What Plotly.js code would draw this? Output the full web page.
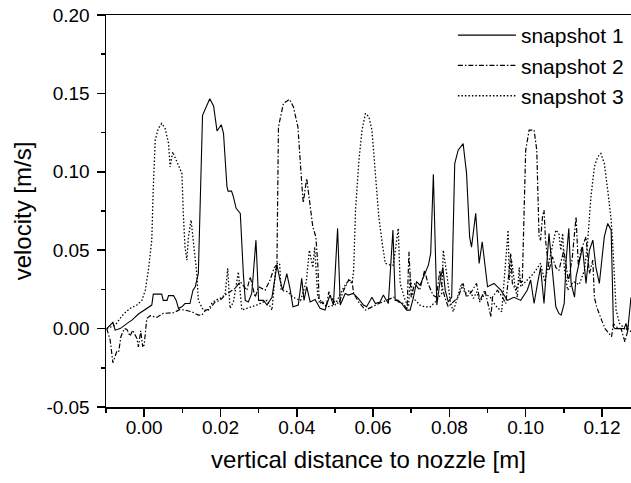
<!DOCTYPE html>
<html>
<head>
<meta charset="utf-8">
<script src="https://cdn.plot.ly/plotly-3.0.1.min.js"></script>
<style>html,body{margin:0;padding:0;background:#fff;}#chart{width:631px;height:483px;}</style>
</head>
<body>
<div id="chart"></div>
<script>
// snapshot 1 (solid)
const x1 = [-0.0098,-0.0082,-0.0076,-0.0063,-0.0041,-0.0032,-0.0015,0.0007,0.0020,0.0024,0.0046,0.0050,0.0060,0.0064,0.0077,0.0084,0.0090,0.0099,0.0107,0.0120,0.0128,0.0134,0.0142,0.0153,0.0172,0.0182,0.0191,0.0202,0.0208,0.0217,0.0220,0.0229,0.0234,0.0241,0.0252,0.0260,0.0265,0.0273,0.0282,0.0293,0.0300,0.0313,0.0322,0.0335,0.0348,0.0356,0.0363,0.0374,0.0383,0.0390,0.0404,0.0413,0.0419,0.0426,0.0435,0.0448,0.0457,0.0461,0.0474,0.0487,0.0496,0.0507,0.0514,0.0527,0.0535,0.0548,0.0561,0.0575,0.0583,0.0597,0.0606,0.0618,0.0627,0.0640,0.0652,0.0658,0.0666,0.0675,0.0688,0.0697,0.0706,0.0714,0.0723,0.0736,0.0745,0.0751,0.0758,0.0767,0.0776,0.0783,0.0789,0.0797,0.0806,0.0814,0.0823,0.0836,0.0845,0.0853,0.0858,0.0869,0.0878,0.0886,0.0897,0.0900,0.0917,0.0935,0.0952,0.0969,0.0987,0.1004,0.1013,0.1022,0.1031,0.1039,0.1048,0.1061,0.1070,0.1079,0.1087,0.1093,0.1101,0.1106,0.1113,0.1119,0.1128,0.1132,0.1149,0.1158,0.1167,0.1176,0.1184,0.1193,0.1206,0.1215,0.1224,0.1230,0.1234,0.1258,0.1263,0.1267,0.1276];
const y1 = [0.000,0.004,-0.001,0.000,0.004,0.0054,0.0093,0.0129,0.015,0.022,0.022,0.018,0.018,0.021,0.021,0.018,0.0129,0.0139,0.016,0.016,0.0245,0.0267,0.035,0.136,0.1466,0.142,0.126,0.130,0.1245,0.0905,0.0877,0.0877,0.084,0.0767,0.0735,0.035,0.018,0.017,0.0224,0.0564,0.018,0.018,0.015,0.020,0.0405,0.031,0.0245,0.035,0.0245,0.0139,0.015,0.032,0.018,0.0267,0.017,0.0186,0.0139,0.0129,0.0118,0.0214,0.015,0.0639,0.015,0.0224,0.0214,0.0224,0.0193,0.015,0.0139,0.020,0.016,0.017,0.0214,0.016,0.0628,0.018,0.018,0.016,0.0118,0.0118,0.020,0.030,0.0277,0.035,0.0405,0.048,0.0985,0.015,0.031,0.039,0.0245,0.017,0.020,0.1053,0.1138,0.118,0.099,0.0585,0.052,0.0735,0.0416,0.0554,0.033,0.0267,0.0288,0.0245,0.018,0.020,0.018,0.0245,0.031,0.016,0.0288,0.039,0.016,0.0607,0.037,0.0139,0.0097,0.0086,0.016,0.0437,0.0639,0.0288,0.020,0.033,0.052,0.0288,0.050,0.0564,0.039,0.0288,0.0585,0.0671,0.0628,0.001,0.000,0.000,0.0033,-0.002,0.020];

// snapshot 2 (dash-dot)
const x2 = [-0.0098,-0.0089,-0.0082,-0.0072,-0.0067,-0.0061,-0.0052,-0.0045,-0.0037,-0.0030,-0.0019,-0.0015,-0.0009,-0.0004,0.0000,0.0007,0.0016,0.0033,0.0050,0.0077,0.0094,0.0107,0.0125,0.0142,0.0151,0.0160,0.0173,0.0186,0.0199,0.0212,0.0225,0.0238,0.0252,0.0269,0.0278,0.0291,0.0300,0.0317,0.0330,0.0341,0.0348,0.0352,0.0365,0.0381,0.0391,0.0403,0.0413,0.0417,0.0426,0.0433,0.0442,0.0450,0.0455,0.0459,0.0468,0.0477,0.0484,0.0490,0.0499,0.0510,0.0523,0.0536,0.0545,0.0549,0.0562,0.0580,0.0597,0.0615,0.0635,0.0654,0.0667,0.0680,0.0689,0.0694,0.0700,0.0709,0.0722,0.0735,0.0744,0.0757,0.0766,0.0775,0.0779,0.0788,0.0797,0.0810,0.0823,0.0836,0.0845,0.0858,0.0871,0.0880,0.0893,0.0909,0.0913,0.0926,0.0939,0.0948,0.0961,0.0965,0.0974,0.0985,0.0991,0.1000,0.1009,0.1022,0.1029,0.1035,0.1039,0.1044,0.1048,0.1052,0.1061,0.1070,0.1079,0.1087,0.1100,0.1112,0.1122,0.1132,0.1138,0.1145,0.1158,0.1167,0.1176,0.1180,0.1186,0.1199,0.1208,0.1225,0.1230,0.1238,0.1250,0.1260,0.1269,0.1276];
const y2 = [0.0,-0.0073,-0.0218,-0.0148,-0.0152,-0.0052,0.0,-0.0005,-0.0048,-0.001,-0.0063,-0.0116,-0.0014,-0.0112,-0.0105,0.0065,0.0082,0.0071,0.0097,0.0101,0.0122,0.0118,0.0107,0.0086,0.0086,0.0114,0.0129,0.017,0.018,0.0214,0.0235,0.0256,0.030,0.0245,0.033,0.020,0.0267,0.0245,0.031,0.039,0.040,0.1287,0.1436,0.1462,0.1415,0.1287,0.0926,0.0802,0.0958,0.082,0.0649,0.0585,0.0416,0.016,0.017,0.0139,0.0235,0.020,0.017,0.016,0.0245,0.031,0.030,0.0224,0.017,0.0118,0.0139,0.016,0.018,0.020,0.017,0.016,0.0118,0.049,0.020,0.0288,0.0245,0.037,0.0288,0.0214,0.020,0.037,0.0288,0.020,0.0139,0.017,0.020,0.0288,0.020,0.0235,0.0288,0.018,0.0245,0.0075,0.020,0.0245,0.020,0.016,0.048,0.0288,0.0245,0.031,0.0288,0.1138,0.1266,0.1266,0.1138,0.0585,0.0564,0.0713,0.0756,0.0564,0.037,0.0458,0.039,0.037,0.050,0.030,0.045,0.0713,0.040,0.050,0.0585,0.035,0.0437,0.020,0.0139,0.0054,0.0,-0.0052,0.003,0.001,0.0,-0.0084,0.0,-0.002];

// snapshot 3 (dotted)
const x3 = [-0.0098,-0.0076,-0.0063,-0.0054,-0.0037,-0.0019,-0.0006,0.0003,0.0011,0.0020,0.0024,0.0029,0.0037,0.0046,0.0055,0.0064,0.0068,0.0075,0.0084,0.0094,0.0099,0.0103,0.0107,0.0112,0.0116,0.0123,0.0129,0.0138,0.0142,0.0155,0.0168,0.0177,0.0186,0.0199,0.0212,0.0219,0.0225,0.0234,0.0247,0.0256,0.0269,0.0282,0.0295,0.0313,0.0322,0.0335,0.0346,0.0355,0.0359,0.0377,0.0390,0.0410,0.0425,0.0433,0.0442,0.0447,0.0455,0.0468,0.0481,0.0500,0.0519,0.0536,0.0545,0.0549,0.0554,0.0563,0.0571,0.0580,0.0589,0.0597,0.0606,0.0615,0.0624,0.0632,0.0645,0.0653,0.0666,0.0671,0.0684,0.0693,0.0697,0.0706,0.0723,0.0736,0.0750,0.0763,0.0780,0.0784,0.0793,0.0802,0.0810,0.0819,0.0832,0.0841,0.0854,0.0863,0.0872,0.0880,0.0893,0.0907,0.0920,0.0937,0.0950,0.0954,0.0957,0.0963,0.0972,0.0978,0.0983,0.0987,0.1000,0.1020,0.1039,0.1050,0.1066,0.1079,0.1087,0.1092,0.1097,0.1101,0.1110,0.1125,0.1140,0.1154,0.1162,0.1171,0.1180,0.1189,0.1197,0.1206,0.1215,0.1224,0.1228,0.1232,0.1237,0.1246,0.1254,0.1263,0.1272];
const y3 = [0.0,0.0022,0.0065,0.0092,0.0129,0.015,0.018,0.0245,0.037,0.0564,0.0904,0.1202,0.1276,0.1308,0.1276,0.118,0.1032,0.1127,0.1074,0.101,0.099,0.0713,0.0522,0.0437,0.0585,0.0692,0.0564,0.035,0.018,0.0118,0.0118,0.016,0.018,0.0193,0.0214,0.0384,0.0129,0.017,0.0362,0.0118,0.0129,0.0139,0.015,0.017,0.018,0.0118,0.0416,0.0416,0.0245,0.0235,0.020,0.018,0.030,0.050,0.039,0.052,0.020,0.016,0.0139,0.015,0.0245,0.031,0.0288,0.037,0.0756,0.1075,0.1266,0.1372,0.1351,0.1266,0.0968,0.0713,0.0543,0.0416,0.0405,0.0405,0.0639,0.0288,0.018,0.0139,0.033,0.0193,0.015,0.0139,0.0139,0.017,0.0224,0.050,0.035,0.018,0.0107,0.018,0.0288,0.0224,0.0245,0.0193,0.0235,0.017,0.0224,0.020,0.015,0.0107,0.050,0.0628,0.031,0.0437,0.0267,0.020,0.039,0.0267,0.030,0.035,0.0416,0.030,0.048,0.0628,0.0607,0.050,0.0607,0.039,0.0245,0.030,0.028,0.037,0.0543,0.084,0.1032,0.1096,0.1117,0.1053,0.0883,0.0692,0.0543,0.033,0.0118,0.0033,0.001,-0.001,0.0033];

const names = ["snapshot 1", "snapshot 2", "snapshot 3"];
const xTickLabels = ["0.00","0.02","0.04","0.06","0.08","0.10","0.12"];
const yTickLabels = ["-0.05","0.00","0.05","0.10","0.15","0.20"];

const FONT = "Liberation Sans, Arial, sans-serif";
const traces = [
  {x: x1, y: y1, name: names[0], mode: "lines", line: {color: "#000", width: 1.1, dash: "solid"}},
  {x: x2, y: y2, name: names[1], mode: "lines", line: {color: "#000", width: 1.2, dash: "5px,2px,1.5px,2px"}},
  {x: x3, y: y3, name: names[2], mode: "lines", line: {color: "#000", width: 1.3, dash: "1.5px,2px"}}
];

const layout = {
  width: 631, height: 483,
  margin: {l: 106, r: 0, t: 15, b: 76},
  paper_bgcolor: "#fff", plot_bgcolor: "#fff",
  font: {family: FONT, color: "#000"},
  showlegend: true,
  legend: {x: 0.996, xanchor: "right", y: 1.0, yanchor: "top", bgcolor: "rgba(0,0,0,0)",
           font: {family: FONT, size: 21, color: "#000"}, itemwidth: 58, tracegroupgap: 0},
  xaxis: {
    range: [-0.01, 0.1276], showgrid: false, zeroline: false,
    showline: true, linecolor: "#000", linewidth: 1.5, mirror: true,
    ticks: "outside", ticklen: 8, tickwidth: 1.5, tickcolor: "#000",
    tickmode: "array", tickvals: [0, 0.02, 0.04, 0.06, 0.08, 0.10, 0.12], ticktext: xTickLabels,
    minor: {dtick: 0.01, tick0: 0, ticks: "outside", ticklen: 4, tickwidth: 1.5, tickcolor: "#000"},
    tickfont: {family: FONT, size: 19, color: "#000"}, ticklabelstandoff: -5,
    title: {text: "vertical distance to nozzle [m]", font: {family: FONT, size: 24, color: "#000"}, standoff: 14}
  },
  yaxis: {
    range: [-0.05, 0.20], showgrid: false, zeroline: false,
    showline: true, linecolor: "#000", linewidth: 1.5, mirror: false,
    ticks: "outside", ticklen: 8, tickwidth: 1.5, tickcolor: "#000",
    tickmode: "array", tickvals: [-0.05, 0, 0.05, 0.10, 0.15, 0.20], ticktext: yTickLabels,
    minor: {dtick: 0.025, tick0: 0, ticks: "outside", ticklen: 4, tickwidth: 1.5, tickcolor: "#000"},
    tickfont: {family: FONT, size: 19, color: "#000"}, ticklabelstandoff: 3,
    title: {text: "velocity [m/s]", font: {family: FONT, size: 24, color: "#000"}, standoff: 8}
  }
};

Plotly.newPlot("chart", traces, layout, {staticPlot: true, displayModeBar: false});
</script>
</body>
</html>
